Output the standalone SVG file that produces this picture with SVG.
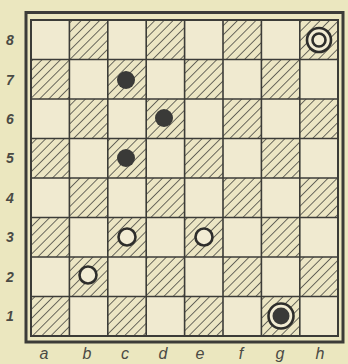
<svg xmlns="http://www.w3.org/2000/svg" width="348" height="364" viewBox="0 0 348 364">
<style>
.lbl{font-family:"Liberation Sans",Arial,sans-serif;font-style:italic;font-weight:bold;fill:#4a4a44;font-size:14px;text-anchor:middle}
.fl{font-size:16px;font-weight:normal}
.grid{stroke:#3c3c38;stroke-width:1.6;fill:none}
.dk{fill:url(#hatch)}
.wp{fill:#f2ecd4;stroke:#2e2e2c;stroke-width:2.6}
.bp{fill:#3a3a38}
</style>
<defs>
<pattern id="hatch" patternUnits="userSpaceOnUse" width="6.5" height="6.5" patternTransform="rotate(45)">
<rect width="6.5" height="6.5" fill="#ece6c4"/>
<line x1="0" y1="0" x2="0" y2="6.5" stroke="#4a4a44" stroke-width="1.6"/>
</pattern>
</defs>
<rect width="348" height="364" fill="#ebe7bf"/>
<rect x="31" y="20" width="307" height="316" fill="#f0ead0"/>
<g id="dark-squares">
<rect class="dk" x="69.4" y="20" width="38.4" height="39.5"/><rect class="dk" x="146.2" y="20" width="38.4" height="39.5"/><rect class="dk" x="223" y="20" width="38.4" height="39.5"/><rect class="dk" x="299.8" y="20" width="38.4" height="39.5"/>
<rect class="dk" x="31" y="59.5" width="38.4" height="39.5"/><rect class="dk" x="107.8" y="59.5" width="38.4" height="39.5"/><rect class="dk" x="184.6" y="59.5" width="38.4" height="39.5"/><rect class="dk" x="261.4" y="59.5" width="38.4" height="39.5"/>
<rect class="dk" x="69.4" y="99" width="38.4" height="39.5"/><rect class="dk" x="146.2" y="99" width="38.4" height="39.5"/><rect class="dk" x="223" y="99" width="38.4" height="39.5"/><rect class="dk" x="299.8" y="99" width="38.4" height="39.5"/>
<rect class="dk" x="31" y="138.5" width="38.4" height="39.5"/><rect class="dk" x="107.8" y="138.5" width="38.4" height="39.5"/><rect class="dk" x="184.6" y="138.5" width="38.4" height="39.5"/><rect class="dk" x="261.4" y="138.5" width="38.4" height="39.5"/>
<rect class="dk" x="69.4" y="178" width="38.4" height="39.5"/><rect class="dk" x="146.2" y="178" width="38.4" height="39.5"/><rect class="dk" x="223" y="178" width="38.4" height="39.5"/><rect class="dk" x="299.8" y="178" width="38.4" height="39.5"/>
<rect class="dk" x="31" y="217.5" width="38.4" height="39.5"/><rect class="dk" x="107.8" y="217.5" width="38.4" height="39.5"/><rect class="dk" x="184.6" y="217.5" width="38.4" height="39.5"/><rect class="dk" x="261.4" y="217.5" width="38.4" height="39.5"/>
<rect class="dk" x="69.4" y="257" width="38.4" height="39.5"/><rect class="dk" x="146.2" y="257" width="38.4" height="39.5"/><rect class="dk" x="223" y="257" width="38.4" height="39.5"/><rect class="dk" x="299.8" y="257" width="38.4" height="39.5"/>
<rect class="dk" x="31" y="296.5" width="38.4" height="39.5"/><rect class="dk" x="107.8" y="296.5" width="38.4" height="39.5"/><rect class="dk" x="184.6" y="296.5" width="38.4" height="39.5"/><rect class="dk" x="261.4" y="296.5" width="38.4" height="39.5"/>
</g>
<g id="grid" class="grid">
<path d="M69.4 20V336M107.8 20V336M146.2 20V336M184.6 20V336M223 20V336M261.4 20V336M299.8 20V336M31 59.5H338M31 99H338M31 138.5H338M31 178H338M31 217.5H338M31 257H338M31 296.5H338"/>
<rect x="31" y="20" width="307" height="316" stroke-width="2"/>
<rect x="26" y="12.5" width="317" height="329.5" stroke-width="3"/>
</g>
<g id="pieces">
<g id="h8"><circle class="wp" cx="319" cy="40" r="12"/><circle class="wp" cx="319" cy="40" r="6.5"/></g>
<g id="c7"><circle class="bp" cx="126" cy="80" r="9"/></g>
<g id="d6"><circle class="bp" cx="164" cy="118" r="9"/></g>
<g id="c5"><circle class="bp" cx="126" cy="158" r="9"/></g>
<g id="c3"><circle class="wp" cx="127" cy="237" r="8.5"/></g>
<g id="e3"><circle class="wp" cx="204" cy="237" r="8.5"/></g>
<g id="b2"><circle class="wp" cx="88" cy="275" r="8.5"/></g>
<g id="g1"><circle class="wp" cx="281" cy="316" r="12.5"/><circle class="bp" cx="281" cy="316" r="8.5"/></g>
</g>
<g id="rank-labels" class="lbl">
<text x="10" y="45">8</text><text x="10" y="85">7</text><text x="10" y="124">6</text><text x="10" y="163">5</text><text x="10" y="203">4</text><text x="10" y="242">3</text><text x="10" y="282">2</text><text x="10" y="321">1</text>
</g>
<g id="file-labels" class="lbl fl">
<text x="44" y="359">a</text><text x="87" y="359">b</text><text x="125" y="359">c</text><text x="163" y="359">d</text><text x="200" y="359">e</text><text x="241" y="359">f</text><text x="280" y="359">g</text><text x="320" y="359">h</text>
</g>
</svg>
